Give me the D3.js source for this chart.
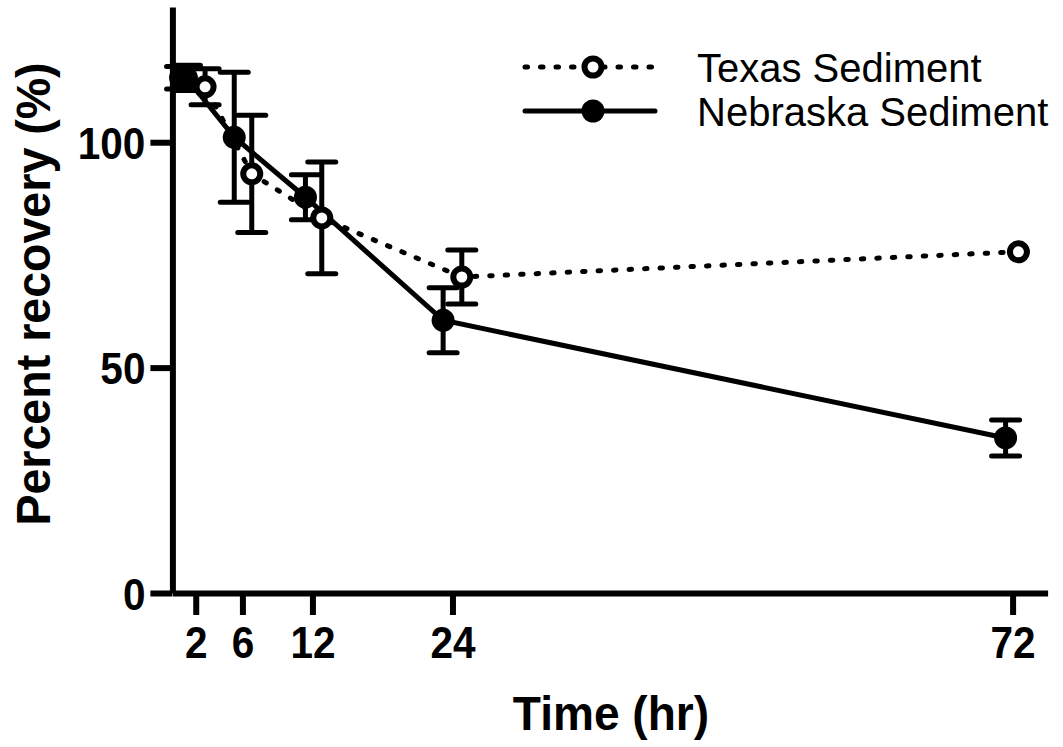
<!DOCTYPE html>
<html>
<head>
<meta charset="utf-8">
<script src="https://cdn.jsdelivr.net/npm/d3@7"></script>
<style>
  body { margin: 0; background: #fff; }
  text { font-family: "Liberation Sans", Arial, sans-serif; }
</style>
</head>
<body>
<script>
(function(){
  var canvasWidth = 1063;
  var canvasHeight = 747;

  // data (time offsets are the nudges used in the original)
  var timeTicks = [2, 6, 12, 24, 72];
  var yTicks = [0, 50, 100];

  var texasTime = [0.7, 2.8, 6.8, 12.8, 24.8, 72.5];
  var texasMean = [114.3, 112.3, 93.0, 83.2, 70.1, 75.7];
  var texasErr  = [2.5, 4.0, 13.0, 12.4, 6.0, 0];

  var nebraskaTime = [1.2, 5.3, 11.4, 23.2, 71.4];
  var nebraskaMean = [114.3, 101.1, 87.8, 60.5, 34.4];
  var nebraskaErr  = [2.8, 14.4, 5.0, 7.2, 4.0];

  var seriesNames = ["Texas Sediment", "Nebraska Sediment"];

  var x = d3.scaleLinear().domain([0, 75]).range([172.4, 1047.6]);
  var y = d3.scaleLinear().domain([0, 130]).range([593, 7]);

  var svg = d3.select("body").append("svg")
    .attr("width", canvasWidth)
    .attr("height", canvasHeight);

  function toPoints(ts, ms, es) {
    return ts.map((t, i) => ({t: t, v: ms[i], e: es[i]}));
  }
  var texas = toPoints(texasTime, texasMean, texasErr);
  var nebraska = toPoints(nebraskaTime, nebraskaMean, nebraskaErr);

  // squeeze glyphs a little: the original font is taller than it is wide
  function squeeze(sel, k) {
    sel.each(function() {
      var w = this.getComputedTextLength();
      d3.select(this).attr("textLength", w * k).attr("lengthAdjust", "spacingAndGlyphs");
    });
  }

  // axes
  var yAxis = d3.axisLeft(y).tickValues(yTicks).tickSize(22).tickSizeOuter(0).tickPadding(5);
  var gy = svg.append("g").attr("transform", "translate(" + x(0) + ",0)").call(yAxis);

  var xAxis = d3.axisBottom(x).tickValues(timeTicks).tickSize(22).tickSizeOuter(0);
  var gx = svg.append("g").attr("transform", "translate(0," + y(0) + ")").call(xAxis);

  [gx, gy].forEach(g => {
    g.selectAll("path, line").attr("stroke", "#000").attr("stroke-width", 6);
    g.selectAll("text").attr("fill", "#000")
      .style("font-size", "45px").style("font-weight", "bold");
    squeeze(g.selectAll("text"), 0.9);
  });
  gx.selectAll("text").attr("y", 65).attr("dy", 0);
  gy.selectAll("text").attr("dy", "0.36em");

  // axis titles
  svg.append("text")
    .attr("x", 611).attr("y", 730)
    .attr("text-anchor", "middle")
    .style("font-size", "48px").style("font-weight", "bold")
    .text("Time (hr)")
    .call(squeeze, 0.96);

  svg.append("text")
    .attr("transform", "translate(50,294) rotate(-90)")
    .attr("text-anchor", "middle")
    .style("font-size", "48px").style("font-weight", "bold")
    .text("Percent recovery (%)")
    .call(squeeze, 0.97);

  var line = d3.line().x(d => x(d.t)).y(d => y(d.v));

  svg.append("path").datum(texas)
    .attr("d", line).attr("fill", "none")
    .attr("stroke", "#000").attr("stroke-width", 5)
    .attr("stroke-linecap", "round").attr("stroke-dasharray", "2.5,13");

  svg.append("path").datum(nebraska)
    .attr("d", line).attr("fill", "none")
    .attr("stroke", "#000").attr("stroke-width", 5);

  function errorBars(data) {
    var g = svg.append("g").attr("stroke", "#000").attr("stroke-width", 5);
    data.filter(d => d.e > 0).forEach(d => {
      var cx = x(d.t);
      g.append("line").attr("x1", cx).attr("x2", cx)
        .attr("y1", y(d.v + d.e)).attr("y2", y(d.v - d.e));
      [d.v + d.e, d.v - d.e].forEach(v => {
        g.append("line").attr("x1", cx - 14).attr("x2", cx + 14)
          .attr("y1", y(v)).attr("y2", y(v))
          .attr("stroke-linecap", "round");
      });
    });
  }
  errorBars(texas);
  errorBars(nebraska);

  svg.append("g").selectAll("circle").data(texas).join("circle")
    .attr("cx", d => x(d.t)).attr("cy", d => y(d.v)).attr("r", 8.5)
    .attr("fill", "#fff").attr("stroke", "#000").attr("stroke-width", 6);

  svg.append("g").selectAll("circle").data(nebraska).join("circle")
    .attr("cx", d => x(d.t)).attr("cy", d => y(d.v)).attr("r", 11.5)
    .attr("fill", "#000");

  // legend
  var legend = svg.append("g");
  seriesNames.forEach((name, i) => {
    var ly = 67 + i * 44;
    var row = legend.append("g");
    row.append("line").attr("x1", 525).attr("x2", 655).attr("y1", ly).attr("y2", ly)
      .attr("stroke", "#000").attr("stroke-width", 5)
      .attr("stroke-linecap", "round")
      .attr("stroke-dasharray", i === 0 ? "2.5,13" : null);
    if (i === 0) {
      row.append("circle").attr("cx", 593).attr("cy", ly).attr("r", 8.5)
        .attr("fill", "#fff").attr("stroke", "#000").attr("stroke-width", 6);
    } else {
      row.append("circle").attr("cx", 593).attr("cy", ly).attr("r", 11.5).attr("fill", "#000");
    }
    row.append("text").attr("x", 697).attr("y", ly + 15)
      .style("font-size", "40px").text(name);
  });
})();
</script>
</body>
</html>
